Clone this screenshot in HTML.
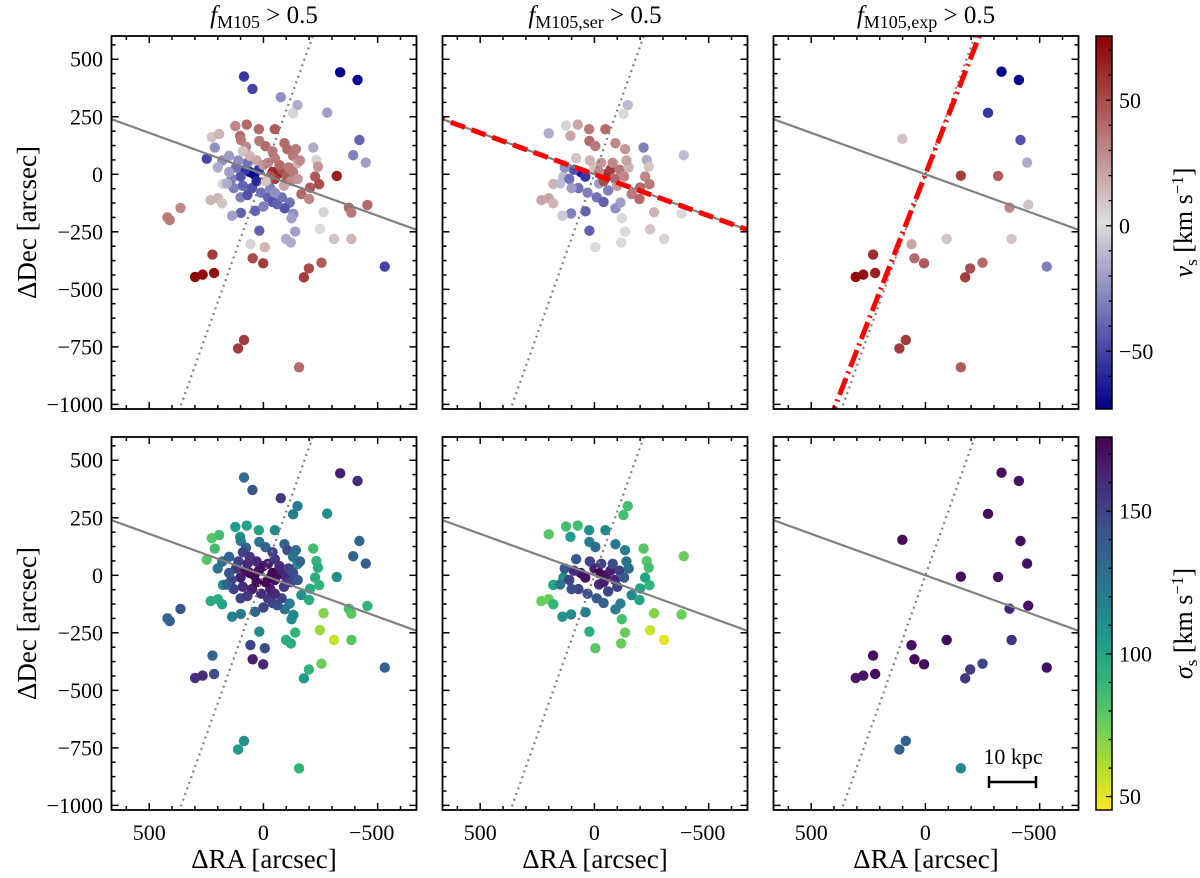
<!DOCTYPE html>
<html><head><meta charset="utf-8"><style>
html,body{margin:0;padding:0;background:#fff;width:1200px;height:878px;overflow:hidden;}
svg{display:block;font-family:"Liberation Serif",serif;}
</style></head><body>
<svg id="fig" width="1200" height="878" viewBox="0 0 1200 878" xmlns="http://www.w3.org/2000/svg"></svg>
<script>
// ---- data: all PNe (f_M105 > 0.5) ----
const allRA=[85,48,-336,-412,-76,-149,-130,-279,-420,-393,-448,-218,-232,-239,-321,-226,-244,-204,-166,-200,-374,-385,-455,-263,-247,-309,-385,-531,-254,-199,-177,-139,-99,-120,-115,-131,-123,-93,18,36,99,137,57,-6,47,1,223,216,266,299,420,410,363,231,199,181,177,248,213,226,194,123,73,20,-50,102,99,18,-9,-92,-105,-142,-130,-149,76,85,111,-156,
60,40,80,100,120,140,90,50,30,20,70,110,150,130,160,10,-20,-40,-60,-30,0,-80,-50,100,70,180,150,200,90,60,30,0,-40,-60,-50,-80,-100,-30,-70,-110,-120,-90,-20,-50,-130,-150,-10,-160,-40];
const allDec=[425,371,443,410,335,301,265,268,149,83,51,116,62,33,-7,-10,-43,-58,-86,-107,-145,-167,-133,-165,-238,-281,-281,-401,-384,-409,-448,-249,-281,-296,-123,-172,-191,-148,-245,-159,-168,-180,-303,-317,-365,-387,-349,-429,-436,-446,-187,-199,-146,-112,-104,-126,-42,68,116,161,175,210,216,196,196,167,149,145,122,135,109,109,80,48,120,-720,-757,-839,
10,0,20,-10,30,-20,-50,-60,-30,20,50,60,10,-60,-40,-80,-100,-120,-130,-60,-140,-100,-80,-100,-90,60,80,30,100,80,60,40,10,0,-20,20,-10,-10,40,30,-30,-50,50,70,10,-20,-30,60,100];
const allV=[-55,-50,-75,-72,-25,-15,5,-20,-40,-30,-20,-15,5,25,65,45,50,45,40,30,40,35,40,5,0,10,15,-50,45,50,55,-20,-15,-15,-35,-25,-20,-45,-40,-40,-40,-20,5,15,50,55,55,70,72,75,35,35,30,15,15,10,0,-50,-25,10,15,30,40,40,45,40,35,35,40,40,40,35,35,15,30,55,55,40,
-65,-70,-55,-45,-35,-30,-40,-45,-60,-55,-35,-25,-20,-30,-15,-35,-40,-45,-40,-30,-30,-35,-25,-30,-45,-25,-20,-15,10,15,20,25,60,65,55,50,45,45,40,35,30,20,30,35,35,25,10,30,35];
const allSig=[130,140,165,160,155,120,120,110,135,135,135,85,90,95,110,95,90,95,110,95,85,80,90,70,65,55,80,135,75,90,105,90,95,95,120,115,115,125,115,135,120,120,150,145,165,160,135,145,160,160,135,135,140,95,95,100,110,80,85,80,85,105,100,100,115,110,120,125,135,135,145,130,125,115,135,110,105,90,
175,175,170,165,155,150,160,165,172,170,160,150,140,150,135,160,155,150,145,165,150,150,160,150,155,130,135,125,150,155,160,170,175,172,170,165,160,175,160,150,150,155,165,155,145,140,175,135,150];
// ---- data: Sersic component ----
const serRA=[-146,-127,200,124,73,23,-48,105,22,-4,-92,-134,-215,-229,-238,-391,-222,-241,-200,-163,-197,-261,-381,-244,-305,-134,-117,-120,-92,-114,22,-4,39,102,140,232,200,180,180,136,
60,40,90,110,130,70,30,-10,-40,-60,-20,0,20,80,100,150,-50,-70,-40,-90,-110,-80,-30,-130,-150,-100,-140,-20];
const serDec=[301,262,178,212,216,196,196,167,145,123,135,109,116,62,33,83,-10,-43,-57,-86,-107,-165,-170,-239,-281,-249,-296,-191,-148,-123,-245,-317,-161,-170,-180,-112,-104,-126,-42,-10,
10,-10,20,-20,30,-60,-80,-100,-120,-70,-40,30,60,70,-60,-40,0,20,-30,-20,20,50,50,-10,30,-50,60,10];
const serV=[-10,0,-15,5,20,35,40,20,40,35,30,25,-30,-15,10,-10,30,35,40,35,40,15,0,10,5,0,0,0,-25,-20,-40,0,-40,-30,-5,20,20,15,15,-10,
-65,-55,-45,-35,-25,-35,-30,-35,-40,-30,-20,10,15,10,-20,-10,60,55,50,40,35,30,25,30,15,25,20,30];
const serSig=[85,85,80,85,85,110,115,105,120,130,125,120,80,80,85,75,100,90,100,115,100,70,75,55,50,75,75,85,120,120,95,80,120,115,110,75,75,90,100,110,
170,170,160,150,140,150,145,140,135,150,160,165,150,140,145,125,170,165,165,160,150,145,150,140,130,150,125,175];
// ---- data: exponential component ----
const expRA=[-333,-409,-274,-416,-445,101,-155,-318,-368,-450,-93,-377,61,48,6,229,220,272,305,-250,-196,-174,-531,86,114,-155];
const expDec=[446,410,267,149,51,154,-6,-7,-145,-132,-281,-281,-304,-365,-387,-349,-429,-436,-446,-384,-409,-448,-401,-720,-757,-839];
const expV=[-75,-75,-55,-45,-15,10,55,45,30,10,10,10,20,40,45,60,65,70,72,40,50,55,-30,55,55,45];
const expSig=[172,170,172,172,170,172,172,172,162,170,172,158,172,172,172,172,172,170,168,150,152,155,172,135,135,115];
// axis / fit parameters
const majorSlope=0.36, minorSlope=-2.78, expFitSlope=-2.55;
const xTicks=[500,0,-500], xTickLabels=["500","0","\u2212500"];
const yTicks=[500,250,0,-250,-500,-750,-1000], yTickLabels=["500","250","0","\u2212250","\u2212500","\u2212750","\u22121000"];
const vTicks=[-50,0,50], vTickLabels=["\u221250","0","50"];
const sTicks=[50,100,150], sTickLabels=["50","100","150"];

const NS="http://www.w3.org/2000/svg";
const svg=document.getElementById('fig');
function mk(tag,attrs,parent){const e=document.createElementNS(NS,tag);for(const k in attrs)e.setAttribute(k,attrs[k]);(parent||svg).appendChild(e);return e;}

const LEFT=[111.5,442.5,773.5], TOP=[36,437], W=305, H=373;
const XL=665, XR=-670, YT=601, YB=-1020;
const VMIN=-73, VMAX=75.6, SMIN=45.3, SMAX=176;
function X(p,ra){return LEFT[p]+(XL-ra)/(XL-XR)*W;}
function Y(r,dec){return TOP[r]+(YT-dec)/(YT-YB)*H;}

function lerp(a,b,t){return a+(b-a)*t;}
function vColor(v){
  let t=(v-VMIN)/(VMAX-VMIN); t=Math.max(0,Math.min(1,t));
  const lo=[0,0,140], mid=[221,221,221], hi=[140,0,0];
  let c; if(t<0.5){const u=t/0.5;c=lo.map((x,i)=>lerp(x,mid[i],u));}else{const u=(t-0.5)/0.5;c=mid.map((x,i)=>lerp(x,hi[i],u));}
  return `rgb(${c.map(Math.round).join(',')})`;
}
const VIR=[[68,1,84],[72,40,120],[62,74,137],[49,104,142],[38,130,142],[31,158,137],[53,183,121],[109,205,89],[180,222,44],[253,231,37]];
function sColor(s){
  let t=(SMAX-s)/(SMAX-SMIN); t=Math.max(0,Math.min(1,t));
  const f=t*(VIR.length-1), i=Math.min(VIR.length-2,Math.floor(f)), u=f-i;
  return `rgb(${VIR[i].map((x,k)=>Math.round(lerp(x,VIR[i+1][k],u))).join(',')})`;
}

const defs=mk('defs',{});
const g1=mk('linearGradient',{id:'gv',x1:0,y1:1,x2:0,y2:0},defs);
for(let i=0;i<=20;i++){mk('stop',{offset:i/20,'stop-color':vColor(VMIN+(VMAX-VMIN)*i/20)},g1);}
const g2=mk('linearGradient',{id:'gs',x1:0,y1:1,x2:0,y2:0},defs);
for(let i=0;i<=20;i++){mk('stop',{offset:i/20,'stop-color':sColor(SMIN+(SMAX-SMIN)*i/20)},g2);}
for(let p=0;p<3;p++)for(let r=0;r<2;r++){
  const cp=mk('clipPath',{id:`c${p}${r}`},defs);
  mk('rect',{x:LEFT[p],y:TOP[r],width:W,height:H},cp);
}

const panelData=[[allRA,allDec,allV,allSig],[serRA,serDec,serV,serSig],[expRA,expDec,expV,expSig]];
const titleSubs=["M105","M105,ser","M105,exp"];

function lineThrough(p,r,slope,attrs,name){
  const x1=900,x2=-900;
  const l=mk('line',Object.assign({x1:X(p,x1),y1:Y(r,slope*x1),x2:X(p,x2),y2:Y(r,slope*x2),'clip-path':`url(#c${p}${r})`},attrs));
  
  
  return l;
}

for(let p=0;p<3;p++){
  const t=mk('text',{x:LEFT[p]+W/2,y:23,'text-anchor':'middle','font-size':25});
  
  
  const a=mk('tspan',{'font-style':'italic'},t);a.textContent='f';
  const b=mk('tspan',{'font-size':18,dy:5},t);b.textContent=titleSubs[p];
  const c=mk('tspan',{dy:-5},t);c.textContent=' > 0.5';
  for(let r=0;r<2;r++){
    const [ra,dec,v,sg]=panelData[p];
    const grp=mk('g',{'clip-path':`url(#c${p}${r})`});
    
    
    for(let i=0;i<ra.length;i++){
      const dot=mk('circle',{cx:X(p,ra[i]),cy:Y(r,dec[i]),r:5.2,fill:r===0?vColor(v[i]):sColor(sg[i])},grp);
      
      
    }
    lineThrough(p,r,majorSlope,{stroke:'#808080','stroke-width':2.2},'major-axis-line');
    lineThrough(p,r,minorSlope,{stroke:'#808080','stroke-width':2.2,'stroke-dasharray':'2 4'},'minor-axis-line');
    if(r===0&&p===1) lineThrough(p,r,majorSlope,{stroke:'#ff0000','stroke-width':5,'stroke-dasharray':'15 7'},'fit-kinematic-axis-ser');
    if(r===0&&p===2) lineThrough(p,r,expFitSlope,{stroke:'#ff0000','stroke-width':5,'stroke-dasharray':'18 5 2 5'},'fit-kinematic-axis-exp');
    const fr=mk('rect',{x:LEFT[p],y:TOP[r],width:W,height:H,fill:'none',stroke:'#000','stroke-width':1.8});
    
    
    const tk=mk('g',{stroke:'#000','stroke-width':1.5});
    
    
    for(let xv=-600;xv<=600;xv+=100){
      const major=xTicks.includes(xv), len=major?7:4, xx=X(p,xv);
      mk('line',{x1:xx,y1:TOP[r]+H,x2:xx,y2:TOP[r]+H-len},tk);
      mk('line',{x1:xx,y1:TOP[r],x2:xx,y2:TOP[r]+len},tk);
    }
    for(let yv=-1000;yv<=600;yv+=62.5){
      const major=yTicks.includes(yv), len=major?7:4, yy=Y(r,yv);
      mk('line',{x1:LEFT[p],y1:yy,x2:LEFT[p]+len,y2:yy},tk);
      mk('line',{x1:LEFT[p]+W,y1:yy,x2:LEFT[p]+W-len,y2:yy},tk);
    }
    if(r===1){
      xTicks.forEach((xv,i)=>{
        const lb=mk('text',{x:X(p,xv)-(xv<0?6:0),y:840,'text-anchor':'middle','font-size':22});
        lb.textContent=xTickLabels[i];
        
        
      });
      const xl=mk('text',{x:LEFT[p]+W/2,y:868,'text-anchor':'middle','font-size':27});
      xl.textContent='\u0394RA [arcsec]';
      
      
    }
    if(p===0){
      yTicks.forEach((yv,i)=>{
        const lb=mk('text',{x:103,y:Y(r,yv)+7.5,'text-anchor':'end','font-size':22});
        lb.textContent=yTickLabels[i];
        
        
      });
      const yl=mk('text',{x:0,y:0,'text-anchor':'middle','font-size':27,transform:`translate(36,${TOP[r]+H/2}) rotate(-90)`});
      yl.textContent='\u0394Dec [arcsec]';
      
      
    }
  }
}

function colorbar(r,grad,vmin,vmax,majors,labels,minStart,minEnd,sym,name){
  const cx=1096,cw=16,top=TOP[r],h=H;
  const cy=v=>top+h-(v-vmin)/(vmax-vmin)*h;
  const bar=mk('rect',{x:cx,y:top,width:cw,height:h,fill:`url(#${grad})`,stroke:'#000','stroke-width':1.5});
  
  
  const tk=mk('g',{stroke:'#000','stroke-width':1.3});
  
  
  for(let v=minStart;v<=minEnd;v+=10){
    const major=majors.includes(v);
    mk('line',{x1:cx+cw,y1:cy(v),x2:cx+cw-(major?6:3.5),y2:cy(v)},tk);
  }
  majors.forEach((v,i)=>{
    const lb=mk('text',{x:1119,y:cy(v)+7.5,'font-size':22});
    lb.textContent=labels[i];
    
    
  });
  const t=mk('text',{x:0,y:0,'text-anchor':'middle','font-size':26,transform:`translate(1192,${top+h/2}) rotate(-90)`});
  
  
  const a=mk('tspan',{'font-style':'italic'},t);a.textContent=sym;
  const b=mk('tspan',{'font-size':17,dy:5},t);b.textContent='s';
  const c=mk('tspan',{dy:-5},t);c.textContent=' [km s';
  const d=mk('tspan',{'font-size':17,dy:-9},t);d.textContent='\u22121';
  const e=mk('tspan',{dy:9},t);e.textContent=']';
}
colorbar(0,'gv',VMIN,VMAX,vTicks,vTickLabels,-70,70,'v','velocity-colorbar');
colorbar(1,'gs',SMIN,SMAX,sTicks,sTickLabels,50,170,'\u03c3','dispersion-colorbar');

const sb=mk('g',{stroke:'#000','stroke-width':2.5});


mk('line',{x1:989,y1:782,x2:1036,y2:782},sb);
mk('line',{x1:989,y1:776,x2:989,y2:788},sb);
mk('line',{x1:1036,y1:776,x2:1036,y2:788},sb);
const st=mk('text',{x:1013,y:764,'text-anchor':'middle','font-size':22});
st.textContent='10 kpc';


</script>
</body></html>
